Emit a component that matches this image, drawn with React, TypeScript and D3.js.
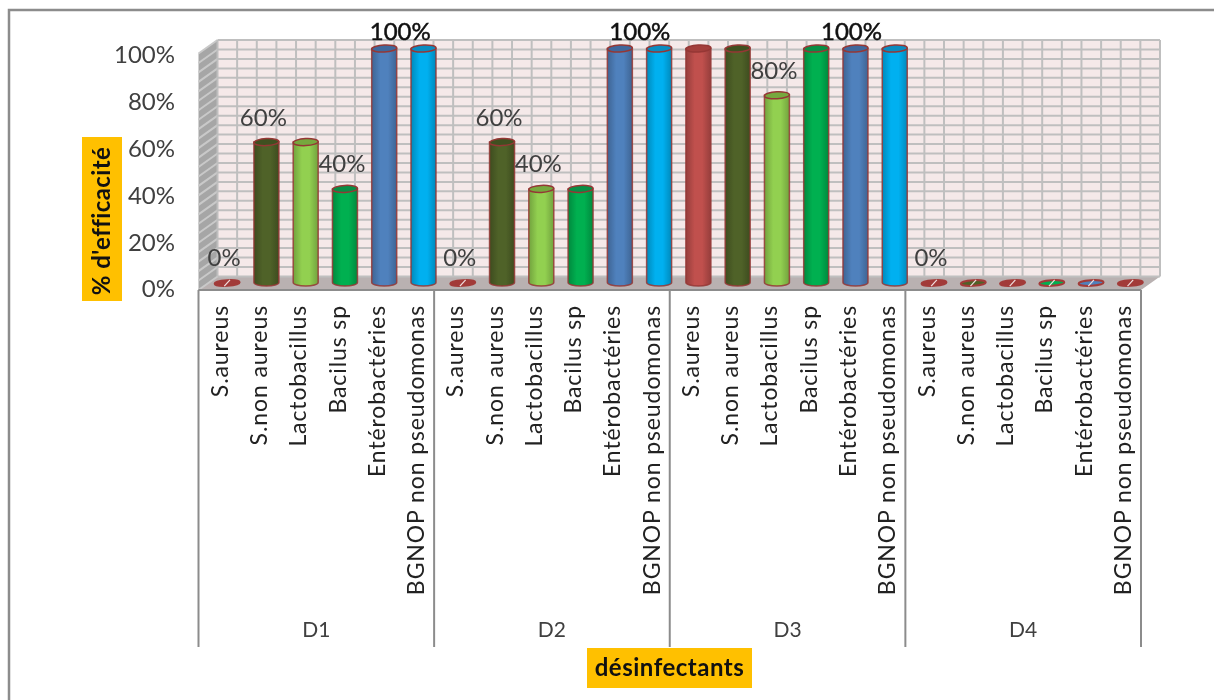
import { useEffect, useRef } from 'react';
import * as d3 from 'd3';

const WIDTH = 1214;
const HEIGHT = 700;

const GROUPS = ['D1', 'D2', 'D3', 'D4'];
const SPECIES = ['S.aureus', 'S.non aureus', 'Lactobacillus', 'Bacilus sp', 'Entérobactéries', 'BGNOP non pseudomonas'];
const COLORS = ['#c0504d', '#4f6228', '#92d050', '#00b050', '#4f81bd', '#00b0f0'];
const TOP_COLORS = ['#a33f3c', '#3f5020', '#76a83e', '#078f45', '#3f689c', '#0a8cc0'];
// the flat discs at 0% are mostly red, only some show the series colour
const ZERO_COLORS = ['#a23b39', '#4f6228', '#a23b39', '#00b050', '#4f81bd', '#a23b39'];

const D1_VALUES = [0, 60, 60, 40, 100, 100];
const D2_VALUES = [0, 60, 40, 40, 100, 100];
const D3_VALUES = [100, 100, 80, 100, 100, 100];
const D4_VALUES = [0, 0, 0, 0, 0, 0];
const SERIES = [D1_VALUES, D2_VALUES, D3_VALUES, D4_VALUES];

// which bars carry a data label (group, species)
const LABELLED = [
  [0, 0], [0, 1], [0, 3], [0, 4],
  [1, 0], [1, 1], [1, 2], [1, 4],
  [2, 2], [2, 4],
  [3, 0],
];

const Y_TICKS = [0, 20, 40, 60, 80, 100];
const FONT = 'Lato, "Open Sans", sans-serif';

export default function App() {
  const ref = useRef<SVGSVGElement>(null);

  useEffect(() => {
    if (!ref.current) return;
    const svg = d3.select(ref.current);
    svg.selectAll('*').remove();

    const frontLeft = 198.5;
    const frontRight = 1141;
    const floorFront = 290;
    const floorBack = 276.5;
    const dx = 19;
    const dy = floorFront - floorBack;

    const keys = GROUPS.flatMap((g) => SPECIES.map((s) => `${g}-${s}`));
    const x = d3.scaleBand<string>().domain(keys).range([frontLeft, frontRight]);
    const wallY = d3.scaleLinear().domain([0, 100]).range([floorBack, 40]);
    const axisY = d3.scaleLinear().domain([0, 100]).range([floorFront - 1, 55]);
    const barY = d3.scaleLinear().domain([0, 100]).range([282.5, 48.5]);
    const gridX = d3.scaleLinear().domain([0, 48]).range([frontLeft + dx, frontRight + dx]);

    // chart frame, only top and left are visible
    svg.append('path')
      .attr('d', `M${WIDTH},10H9V${HEIGHT}`)
      .attr('fill', 'none')
      .attr('stroke', '#8c8c8c')
      .attr('stroke-width', 2.5);

    const defs = svg.append('defs');
    COLORS.forEach((c, i) => {
      const grad = defs.append('linearGradient').attr('id', `cyl-${i}`);
      const dark = d3.color(c)!.darker(0.7).formatHex();
      grad.append('stop').attr('offset', '0%').attr('stop-color', dark);
      grad.append('stop').attr('offset', '35%').attr('stop-color', c);
      grad.append('stop').attr('offset', '65%').attr('stop-color', c);
      grad.append('stop').attr('offset', '100%').attr('stop-color', dark);
    });

    // left wall
    svg.append('path')
      .attr('d', `M${frontLeft},${floorFront}V${floorFront - (floorBack - 40)}L${frontLeft + dx},40V${floorBack}Z`)
      .attr('fill', '#a6a6a6');
    // floor
    svg.append('path')
      .attr('d', `M${frontLeft},${floorFront}H${frontRight}L${frontRight + dx},${floorBack}H${frontLeft + dx}Z`)
      .attr('fill', '#b9b1b1');
    // back wall
    svg.append('rect')
      .attr('x', frontLeft + dx)
      .attr('y', 40)
      .attr('width', frontRight - frontLeft)
      .attr('height', floorBack - 40)
      .attr('fill', '#f5e9e9');

    const grid = svg.append('g').attr('stroke', '#bfbfbf').attr('stroke-width', 2);
    d3.range(0, 101, 4).forEach((v) => {
      grid.append('line')
        .attr('x1', frontLeft + dx)
        .attr('x2', frontRight + dx)
        .attr('y1', wallY(v))
        .attr('y2', wallY(v));
      grid.append('line')
        .attr('x1', frontLeft)
        .attr('x2', frontLeft + dx)
        .attr('y1', wallY(v) + dy)
        .attr('y2', wallY(v))
        .attr('stroke', '#c9c9c9');
    });
    d3.range(0, 49).forEach((i) => {
      grid.append('line')
        .attr('x1', gridX(i))
        .attr('x2', gridX(i))
        .attr('y1', 40)
        .attr('y2', floorBack);
    });

    // axis lines and group separators
    const axis = svg.append('g').attr('stroke', '#8c8c8c');
    axis.append('line')
      .attr('x1', frontLeft)
      .attr('x2', frontRight)
      .attr('y1', floorFront)
      .attr('y2', floorFront)
      .attr('stroke-width', 2);
    d3.range(0, 5).forEach((i) => {
      const px = x.step() * 6 * i + frontLeft;
      axis.append('line')
        .attr('x1', px)
        .attr('x2', px)
        .attr('y1', floorFront)
        .attr('y2', 647)
        .attr('stroke-width', 2);
    });

    // cylinders
    const rx = 12.5;
    const ry = 3.5;
    const offset = 9;
    const edge = '#953735';
    const bars = svg.append('g');
    GROUPS.forEach((g, gi) => {
      SPECIES.forEach((s, si) => {
        const v = SERIES[gi][si];
        const cx = x(`${g}-${s}`)! + x.bandwidth() / 2 + offset;
        const base = barY(0);
        const top = barY(v);
        if (v === 0) {
          const disc = bars.append('g').attr('transform', `translate(${cx},${base + 0.5}) rotate(-3)`);
          disc.append('ellipse')
            .attr('rx', rx)
            .attr('ry', 2.8)
            .attr('fill', ZERO_COLORS[si])
            .attr('stroke', '#a23b39')
            .attr('stroke-width', 2);
          disc.append('line')
            .attr('x1', -3)
            .attr('x2', 3)
            .attr('y1', 3)
            .attr('y2', -3)
            .attr('stroke', '#f1dfdf')
            .attr('stroke-width', 1.2);
          return;
        }
        bars.append('path')
          .attr('d', `M${cx - rx},${top}V${base}A${rx},${ry} 0 0 0 ${cx + rx},${base}V${top}Z`)
          .attr('fill', `url(#cyl-${si})`)
          .attr('stroke', edge)
          .attr('stroke-opacity', 0.85)
          .attr('stroke-width', 1.5);
        bars.append('ellipse')
          .attr('transform', `translate(${cx},${top}) rotate(-3)`)
          .attr('rx', rx)
          .attr('ry', ry)
          .attr('fill', TOP_COLORS[si])
          .attr('stroke', edge)
          .attr('stroke-width', 1.5);
      });
    });

    const text = svg.append('g').attr('font-family', FONT);

    // y tick labels
    Y_TICKS.forEach((t) => {
      text.append('text')
        .attr('x', 175)
        .attr('y', axisY(t))
        .attr('dy', '0.35em')
        .attr('text-anchor', 'end')
        .attr('font-size', 24)
        .attr('fill', '#404040')
        .text(`${t}%`);
    });

    // data labels, the 100% ones sit between bars at the top of the chart
    LABELLED.forEach(([gi, si]) => {
      const v = SERIES[gi][si];
      const cx = x(`${GROUPS[gi]}-${SPECIES[si]}`)! + x.bandwidth() / 2 + offset;
      const full = v === 100;
      const shift = !full ? -3 : gi === 2 ? -4 : gi === 1 ? 20 : 16;
      text.append('text')
        .attr('x', cx + shift)
        .attr('y', full ? 32 : barY(v) - 25)
        .attr('dy', '0.35em')
        .attr('text-anchor', 'middle')
        .attr('font-size', 24)
        .attr('fill', full ? '#111' : '#404040')
        .attr('stroke', full ? '#111' : 'none')
        .attr('stroke-width', 0.5)
        .text(`${v}%`);
    });

    // species labels, rotated
    GROUPS.forEach((g) => {
      SPECIES.forEach((s) => {
        const cx = x(`${g}-${s}`)! + x.bandwidth() / 2 + 1.5;
        text.append('text')
          .attr('transform', `translate(${cx},305) rotate(-90)`)
          .attr('dy', '0.35em')
          .attr('text-anchor', 'end')
          .attr('font-size', 23)
          .attr('letter-spacing', 0.9)
          .attr('fill', '#222')
          .text(s);
      });
    });

    // group labels
    GROUPS.forEach((g) => {
      const left = x(`${g}-${SPECIES[0]}`)!;
      text.append('text')
        .attr('x', left + x.step() * 3)
        .attr('y', 630)
        .attr('dy', '0.35em')
        .attr('text-anchor', 'middle')
        .attr('font-size', 21)
        .attr('fill', '#404040')
        .text(g);
    });

    // axis titles on their yellow boxes
    svg.append('rect').attr('x', 82).attr('y', 137).attr('width', 40).attr('height', 164).attr('fill', '#ffc000');
    text.append('text')
      .attr('transform', 'translate(102,221) rotate(-90)')
      .attr('dy', '0.35em')
      .attr('text-anchor', 'middle')
      .attr('font-size', 24)
      .attr('letter-spacing', 0.4)
      .attr('font-weight', 700)
      .attr('fill', '#111')
      .text("% d'efficacité");
    svg.append('rect').attr('x', 587).attr('y', 648).attr('width', 165).attr('height', 40).attr('fill', '#ffc000');
    text.append('text')
      .attr('x', 669.5)
      .attr('y', 668)
      .attr('dy', '0.35em')
      .attr('text-anchor', 'middle')
      .attr('font-size', 24)
      .attr('letter-spacing', 0.5)
      .attr('font-weight', 700)
      .attr('fill', '#111')
      .text('désinfectants');

    // boxes were appended after the text group, keep text on top
    text.raise();
  }, []);

  return (
    <svg
      ref={ref}
      width={WIDTH}
      height={HEIGHT}
      style={{ position: 'absolute', left: 0, top: 0, background: '#fff', display: 'block', filter: 'blur(0.35px)' }}
    />
  );
}
